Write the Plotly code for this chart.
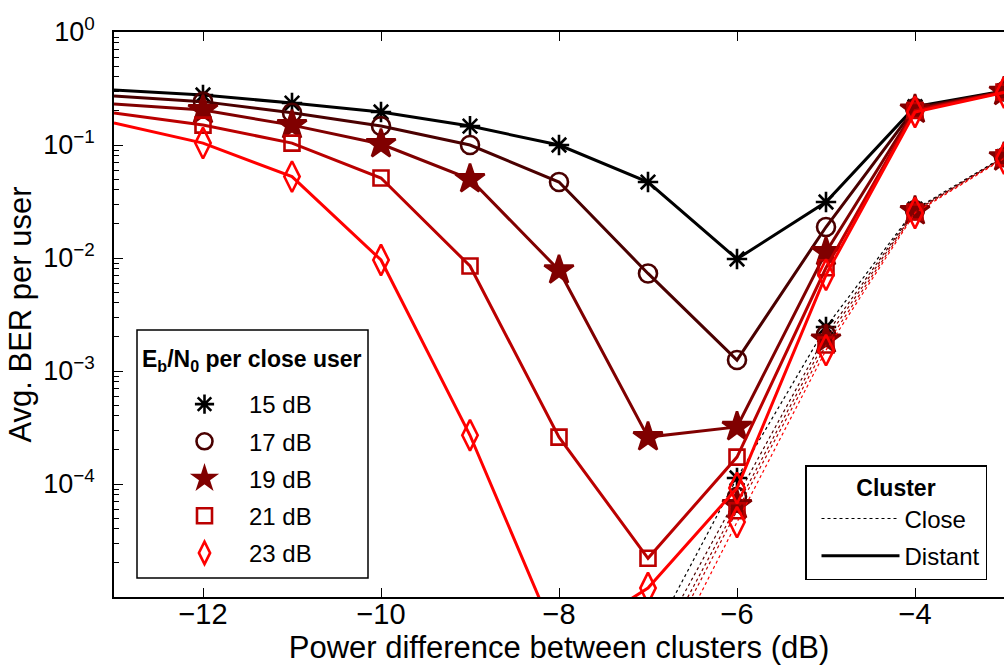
import plotly.graph_objects as go

# Power difference between clusters (dB)
power_diff = [-13, -12, -11, -10, -9, -8, -7, -6, -5, -4, -3]
close_diff = [-7, -6, -5, -4, -3]

snr_labels = ["15 dB", "17 dB", "19 dB", "21 dB", "23 dB"]

# Average BER per user, distant cluster (solid lines)
ber_distant_15 = [0.307, 0.277, 0.235, 0.196, 0.147, 0.100, 0.047, 0.0098, 0.0313, 0.218, 0.300]
ber_distant_17 = [0.271, 0.242, 0.193, 0.147, 0.100, 0.047, 0.0073, 0.00125, 0.0188, 0.212, 0.298]
ber_distant_19 = [0.230, 0.204, 0.150, 0.102, 0.050, 0.0078, 2.6e-4, 3.2e-4, 0.0113, 0.206, 0.296]
ber_distant_21 = [0.192, 0.150, 0.104, 0.051, 0.0085, 2.6e-4, 2.2e-5, 1.73e-4, 0.0082, 0.202, 0.294]
ber_distant_23 = [0.157, 0.104, 0.0525, 0.0096, 2.7e-4, 3.8e-6, 1.2e-5, 9.2e-5, 0.0071, 0.196, 0.292]

# Average BER per user, close cluster (dotted lines)
ber_close_15 = [3.7e-6, 1.13e-4, 0.00245, 0.0270, 0.079]
ber_close_17 = [2.8e-6, 7.7e-5, 0.0021, 0.0265, 0.078]
ber_close_19 = [2.2e-6, 6.5e-5, 0.0019, 0.0260, 0.078]
ber_close_21 = [1.8e-6, 5.8e-5, 0.0017, 0.0255, 0.077]
ber_close_23 = [1.3e-6, 4.6e-5, 0.00153, 0.0250, 0.076]

y_tick_vals = [1, 0.1, 0.01, 0.001, 0.0001]
y_tick_text = ["10<sup>0</sup>", "10<sup>\u22121</sup>", "10<sup>\u22122</sup>",
               "10<sup>\u22123</sup>", "10<sup>\u22124</sup>"]
x_tick_vals = [-12, -10, -8, -6, -4]
x_tick_text = ["\u221212", "\u221210", "\u22128", "\u22126", "\u22124"]

colors = ["#000000", "#4a0000", "#800000", "#bb0000", "#ff0000"]
symbols = ["asterisk-open", "circle-open", "star", "square-open", "diamond-tall-open"]
sizes = [17, 18, 22, 15, 22]

distant = [ber_distant_15, ber_distant_17, ber_distant_19, ber_distant_21, ber_distant_23]
close = [ber_close_15, ber_close_17, ber_close_19, ber_close_21, ber_close_23]

X_MIN, X_MAX = -13, -3
FONT = "Liberation Sans"
LINE_W = 3

# plot-area geometry in pixels, used to place the legend boxes
W, H = 1004, 666
M_L, M_R, M_T, M_B = 114, 0, 32, 69
PW, PH = W - M_L - M_R, H - M_T - M_B


def px(x):
    return (x - M_L) / PW


def py(y):
    return (H - M_B - y) / PH


def marker_style(i, size):
    return dict(symbol=symbols[i], size=size, color=colors[i], opacity=1,
                line=dict(color=colors[i], width=2.6))


fig = go.Figure()

for i in range(5):
    # close cluster: thin dotted curve
    fig.add_trace(go.Scatter(
        x=close_diff, y=close[i], mode="lines+markers",
        line=dict(color=colors[i], width=1.2, dash="dot"),
        marker=marker_style(i, sizes[i]),
        showlegend=False,
    ))

for i in range(5):
    # distant cluster: solid curve, no marker on the left boundary point
    msize = [0 if x <= X_MIN else sizes[i] for x in power_diff]
    fig.add_trace(go.Scatter(
        x=power_diff, y=distant[i], mode="lines+markers",
        line=dict(color=colors[i], width=LINE_W),
        marker=marker_style(i, msize),
        showlegend=False,
    ))

# Legend 1: marker per Eb/N0
for i in range(5):
    fig.add_trace(go.Scatter(
        x=[None], y=[None], mode="markers", name=snr_labels[i],
        marker=marker_style(i, sizes[i]),
        legend="legend", legendgroup=f"snr{i}",
    ))

# Legend 2: line style per cluster
fig.add_trace(go.Scatter(
    x=[None], y=[None], mode="lines", name="Close",
    line=dict(color="black", width=1.2, dash="dot"),
    legend="legend2", legendgroup="close",
))
fig.add_trace(go.Scatter(
    x=[None], y=[None], mode="lines", name="Distant",
    line=dict(color="black", width=LINE_W),
    legend="legend2", legendgroup="distant",
))

axis_common = dict(
    showline=True, linecolor="black", linewidth=1.5,
    ticks="inside", tickcolor="black", tickwidth=1, ticklen=9,
    showgrid=False, zeroline=False,
)

fig.update_xaxes(
    range=[X_MIN, X_MAX], tickvals=x_tick_vals, ticktext=x_tick_text,
    mirror="ticks", ticklabelstandoff=-10,
    tickfont=dict(family=FONT, size=29, color="black"),
    title=dict(text="Power difference between clusters (dB)",
               font=dict(family=FONT, size=31, color="black"), standoff=6),
    **axis_common,
)
fig.update_yaxes(
    type="log", range=[-5, 0], tickvals=y_tick_vals, ticktext=y_tick_text,
    mirror=False, ticklabelstandoff=12,
    tickfont=dict(family=FONT, size=27, color="black"),
    minor=dict(ticks="inside", ticklen=5, tickcolor="black", tickwidth=1, dtick="D1", showgrid=False),
    title=dict(text="Avg. BER per user",
               font=dict(family=FONT, size=31, color="black"), standoff=2),
    **axis_common,
)

# Frame and heading of the Eb/N0 legend
fig.add_shape(
    type="rect", xref="paper", yref="paper",
    x0=px(137), x1=px(368), y0=py(578), y1=py(330),
    line=dict(color="black", width=1.5), fillcolor="white", layer="above",
)
fig.add_annotation(
    xref="paper", yref="paper", x=px(252), y=py(360),
    text="<b>E<sub>b</sub>/N<sub>0</sub> per close user</b>",
    font=dict(family=FONT, size=23, color="black"),
    showarrow=False, xanchor="center", yanchor="middle",
)

fig.update_layout(
    width=W, height=H,
    margin=dict(l=M_L, r=M_R, t=M_T, b=M_B),
    paper_bgcolor="white", plot_bgcolor="white",
    font=dict(family=FONT, color="black"),
    legend=dict(
        x=px(137), y=py(382), xanchor="left", yanchor="top",
        bgcolor="rgba(0,0,0,0)", borderwidth=0,
        font=dict(family=FONT, size=24, color="black"),
        itemwidth=79, indentation=23, tracegroupgap=3, traceorder="grouped",
    ),
    legend2=dict(
        x=px(805), y=py(465), xanchor="left", yanchor="top",
        bgcolor="white", bordercolor="black", borderwidth=1.5,
        font=dict(family=FONT, size=24, color="black"),
        title=dict(text="<b>Cluster</b>",
                   font=dict(family=FONT, size=23, color="black"), side="top center"),
        itemwidth=78, indentation=10, tracegroupgap=3, traceorder="grouped",
    ),
)

fig.write_html("out.html")
